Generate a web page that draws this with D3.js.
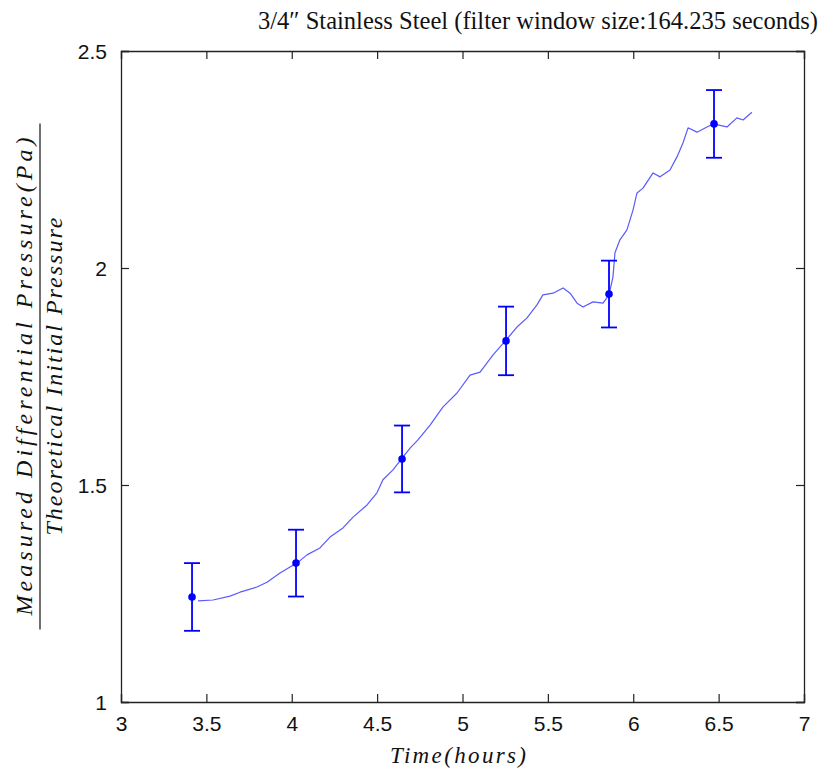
<!DOCTYPE html>
<html>
<head>
<meta charset="utf-8">
<script src="https://cdn.jsdelivr.net/npm/d3@7"></script>
<style>
  body { margin: 0; background: #fff; }
</style>
</head>
<body>
<script>
const width = 831;
const height = 775;
const margin = { l: 121, r: 27, t: 51, b: 73 };

// filtered pressure ratio trace (hours, ratio)
const traceHours = [3.451, 3.539, 3.638, 3.697, 3.796, 3.855, 3.931, 3.990, 4.031, 4.089,
  4.165, 4.224, 4.300, 4.359, 4.441, 4.499, 4.534, 4.593, 4.646, 4.693,
  4.739, 4.810, 4.886, 4.968, 5.044, 5.103, 5.179, 5.255, 5.319, 5.378,
  5.436, 5.471, 5.530, 5.589, 5.630, 5.671, 5.706, 5.764, 5.823, 5.858,
  5.881, 5.893, 5.922, 5.963, 5.999, 6.022, 6.057, 6.116, 6.157, 6.215,
  6.256, 6.291, 6.321, 6.373, 6.432, 6.467, 6.549, 6.607, 6.643, 6.695];
const traceRatio = [1.233, 1.235, 1.244, 1.253, 1.265, 1.276, 1.297, 1.311, 1.320, 1.339,
  1.355, 1.380, 1.401, 1.426, 1.454, 1.482, 1.512, 1.535, 1.562, 1.585,
  1.604, 1.638, 1.680, 1.712, 1.753, 1.760, 1.800, 1.834, 1.864, 1.885,
  1.915, 1.938, 1.942, 1.954, 1.942, 1.919, 1.910, 1.922, 1.919, 1.938,
  1.979, 2.035, 2.065, 2.088, 2.134, 2.173, 2.184, 2.219, 2.210, 2.226,
  2.256, 2.288, 2.323, 2.313, 2.325, 2.332, 2.325, 2.346, 2.341, 2.359];

// sampled points with error bars
const pointHours = [3.416, 4.025, 4.646, 5.255, 5.858, 6.473];
const pointRatio = [1.242, 1.320, 1.560, 1.832, 1.940, 2.332];
const pointErr = [0.078, 0.077, 0.077, 0.079, 0.077, 0.078];

const xTicks = [3, 3.5, 4, 4.5, 5, 5.5, 6, 6.5, 7];
const yTicks = [1, 1.5, 2, 2.5];

const svg = d3.select("body")
  .append("svg")
  .attr("width", width)
  .attr("height", height);

const x = d3.scaleLinear().domain([3, 7]).range([margin.l, width - margin.r]);
const y = d3.scaleLinear().domain([1, 2.5]).range([height - margin.b, margin.t]);

const tickFont = "'Liberation Sans', Arial, sans-serif";
const serif = "'Liberation Serif', 'Times New Roman', serif";

// axes with inward ticks, MATLAB style box
const axisColor = "#222";
const axBottom = svg.append("g")
  .attr("transform", `translate(0,${height - margin.b})`)
  .call(d3.axisBottom(x).tickValues(xTicks).tickSize(-8).tickPadding(13)
    .tickFormat(d3.format("~g")));
const axTop = svg.append("g")
  .attr("transform", `translate(0,${margin.t})`)
  .call(d3.axisTop(x).tickValues(xTicks).tickSize(-8).tickFormat(""));
const axLeft = svg.append("g")
  .attr("transform", `translate(${margin.l},0)`)
  .call(d3.axisLeft(y).tickValues(yTicks).tickSize(-8).tickPadding(14)
    .tickFormat(d3.format("~g")));
const axRight = svg.append("g")
  .attr("transform", `translate(${width - margin.r},0)`)
  .call(d3.axisRight(y).tickValues(yTicks).tickSize(-8).tickFormat(""));

[axBottom, axTop, axLeft, axRight].forEach(g => {
  g.select(".domain").attr("stroke", axisColor).attr("stroke-width", 1.3);
  g.selectAll(".tick line").attr("stroke", axisColor).attr("stroke-width", 1.2);
  g.selectAll(".tick text")
    .style("font-family", tickFont)
    .style("font-size", "21px")
    .attr("fill", "#111");
});
axBottom.selectAll(".tick text").attr("dy", "0.75em");
axLeft.selectAll(".tick text").attr("dy", "0.36em");

// trace line
const trace = traceHours.map((h, i) => [h, traceRatio[i]]);
svg.append("path")
  .datum(trace)
  .attr("fill", "none")
  .attr("stroke", "#5a5aff")
  .attr("stroke-width", 1.2)
  .attr("stroke-linejoin", "round")
  .attr("d", d3.line().x(d => x(d[0])).y(d => y(d[1])));

// error bars
const bars = svg.append("g").attr("class", "errorbars");
pointHours.forEach((h, i) => {
  const cx = x(h);
  const y0 = y(pointRatio[i] - pointErr[i]);
  const y1 = y(pointRatio[i] + pointErr[i]);
  const g = bars.append("g").attr("stroke", "#0000ff").attr("stroke-width", 1.8);
  g.append("line").attr("x1", cx).attr("x2", cx).attr("y1", y0).attr("y2", y1);
  g.append("line").attr("x1", cx - 8).attr("x2", cx + 8).attr("y1", y0).attr("y2", y0);
  g.append("line").attr("x1", cx - 8).attr("x2", cx + 8).attr("y1", y1).attr("y2", y1);
  bars.append("circle")
    .attr("cx", cx)
    .attr("cy", y(pointRatio[i]))
    .attr("r", 3.8)
    .attr("fill", "#0000ff");
});

// title
svg.append("text")
  .attr("x", 818)
  .attr("y", 29)
  .attr("text-anchor", "end")
  .attr("textLength", 560)
  .attr("lengthAdjust", "spacingAndGlyphs")
  .style("font-family", serif)
  .style("font-size", "25px")
  .attr("fill", "#111")
  .text("3/4\u2033 Stainless Steel (filter window size:164.235 seconds)");

// x label
svg.append("text")
  .attr("x", 458)
  .attr("y", 763)
  .attr("text-anchor", "middle")
  .attr("textLength", 136)
  .attr("lengthAdjust", "spacing")
  .style("font-family", serif)
  .style("font-style", "italic")
  .style("font-size", "23px")
  .attr("fill", "#111")
  .text("Time(hours)");

// y label as a fraction
const yl = svg.append("g")
  .attr("transform", `translate(40,${(margin.t + height - margin.b) / 2}) rotate(-90)`);
yl.append("text")
  .attr("x", 0)
  .attr("y", -8)
  .attr("text-anchor", "middle")
  .attr("textLength", 478)
  .attr("lengthAdjust", "spacing")
  .style("font-family", serif)
  .style("font-style", "italic")
  .style("font-size", "24px")
  .attr("fill", "#111")
  .text("Measured Differential Pressure(Pa)");
yl.append("line")
  .attr("x1", -253).attr("x2", 253)
  .attr("y1", 0).attr("y2", 0)
  .attr("stroke", "#111").attr("stroke-width", 1.2);
yl.append("text")
  .attr("x", 0)
  .attr("y", 22)
  .attr("text-anchor", "middle")
  .attr("textLength", 318)
  .attr("lengthAdjust", "spacing")
  .style("font-family", serif)
  .style("font-style", "italic")
  .style("font-size", "24px")
  .attr("fill", "#111")
  .text("Theoretical Initial Pressure");
</script>
</body>
</html>
